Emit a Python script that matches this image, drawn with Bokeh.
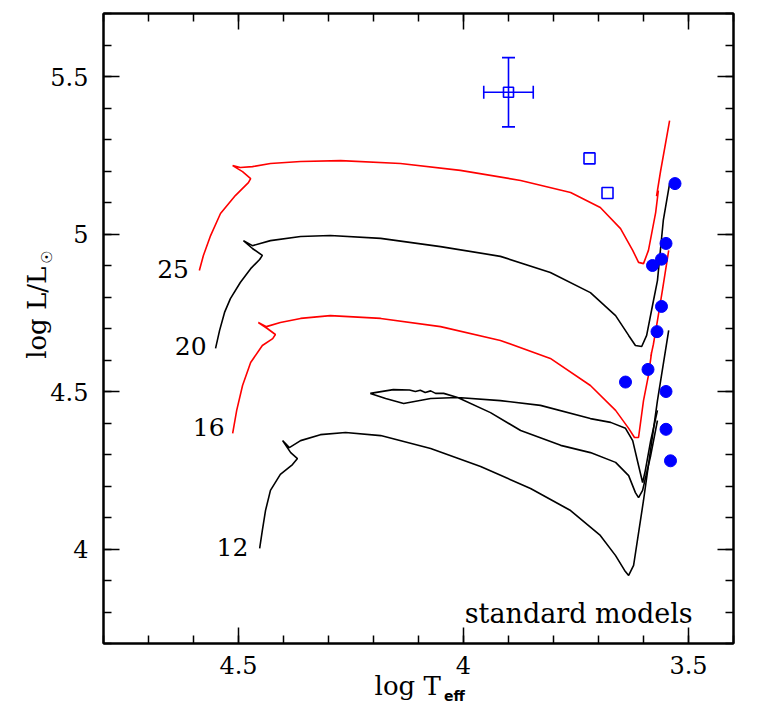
import math
from bokeh.plotting import figure
from bokeh.models import (Range1d, FixedTicker, LinearAxis, Label,
                          CustomJSTickFormatter, ColumnDataSource)
from bokeh.core.properties import value
from bokeh.embed import file_html
from bokeh.resources import INLINE

# ---------------- data ----------------
x_tick_values = [4.5, 4.0, 3.5]
x_tick_labels = ["4.5", "4", "3.5"]
y_tick_values = [4.0, 4.5, 5.0, 5.5]
y_tick_labels = ["4", "4.5", "5", "5.5"]

# 25 Msun track (red)
t25_logT = [4.587, 4.578, 4.562, 4.540, 4.507, 4.478, 4.473, 4.491, 4.513, 4.496,
            4.469, 4.429, 4.362, 4.273, 4.140, 4.007, 3.873, 3.762, 3.696, 3.651,
            3.624, 3.611, 3.600, 3.589, 3.573, 3.567, 3.571, 3.562, 3.542]
t25_logL = [4.884, 4.932, 4.995, 5.065, 5.122, 5.163, 5.176, 5.198, 5.217, 5.211,
            5.214, 5.224, 5.230, 5.233, 5.224, 5.202, 5.170, 5.132, 5.084, 5.017,
            4.948, 4.910, 4.906, 4.948, 5.068, 5.138, 5.120, 5.200, 5.360]

# 20 Msun track (black)
t20_logT = [4.551, 4.542, 4.531, 4.518, 4.496, 4.473, 4.453, 4.447, 4.469, 4.489,
            4.469, 4.429, 4.362, 4.296, 4.184, 4.051, 3.918, 3.807, 3.718, 3.662,
            3.633, 3.618, 3.604, 3.593, 3.580, 3.569, 3.556, 3.542]
t20_logL = [4.637, 4.694, 4.751, 4.795, 4.846, 4.890, 4.919, 4.932, 4.954, 4.979,
            4.963, 4.979, 4.992, 4.995, 4.986, 4.960, 4.929, 4.878, 4.814, 4.741,
            4.678, 4.646, 4.643, 4.678, 4.773, 4.852, 5.043, 5.160]

# 16 Msun track (red)
t16_logT = [4.513, 4.504, 4.491, 4.473, 4.447, 4.424, 4.418, 4.436, 4.456, 4.438,
            4.407, 4.362, 4.296, 4.184, 4.051, 3.918, 3.807, 3.718, 3.662, 3.633,
            3.620, 3.611, 3.600, 3.589, 3.582, 3.584, 3.578, 3.569, 3.558, 3.544]
t16_logL = [4.367, 4.440, 4.519, 4.592, 4.646, 4.668, 4.681, 4.700, 4.719, 4.706,
            4.719, 4.732, 4.741, 4.732, 4.706, 4.662, 4.605, 4.519, 4.440, 4.383,
            4.354, 4.354, 4.471, 4.551, 4.624, 4.610, 4.650, 4.725, 4.821, 4.948]

# 12 Msun track (black)
t12_logT = [4.453, 4.447, 4.440, 4.429, 4.407, 4.380, 4.369, 4.384, 4.402, 4.387,
            4.362, 4.318, 4.262, 4.184, 4.073, 3.962, 3.851, 3.762, 3.696, 3.662,
            3.642, 3.633, 3.622, 3.600, 3.569, 3.544]
t12_logL = [4.002, 4.059, 4.122, 4.186, 4.237, 4.268, 4.287, 4.306, 4.344, 4.322,
            4.344, 4.363, 4.370, 4.360, 4.319, 4.262, 4.192, 4.122, 4.043, 3.979,
            3.932, 3.916, 3.948, 4.154, 4.471, 4.694]

# blue loop (black)
loop_logT = [3.569, 3.584, 3.596, 3.602, 3.611, 3.624, 3.640, 3.673, 3.718, 3.829,
             3.918, 4.013, 4.073, 4.133, 4.173, 4.207, 4.156, 4.120, 4.107, 4.096,
             4.085, 4.073, 4.062, 4.044, 4.013, 3.940, 3.873, 3.784, 3.718, 3.662,
             3.633, 3.618, 3.611, 3.602, 3.584, 3.569]
loop_logL = [4.440, 4.344, 4.249, 4.211, 4.265, 4.344, 4.383, 4.402, 4.414, 4.456,
             4.471, 4.481, 4.478, 4.462, 4.478, 4.494, 4.506, 4.505, 4.500, 4.504,
             4.497, 4.502, 4.494, 4.494, 4.481, 4.433, 4.376, 4.329, 4.306, 4.275,
             4.233, 4.179, 4.163, 4.186, 4.297, 4.408]

# observed stars (filled dots)
star_logT = [3.53, 3.55, 3.56, 3.58, 3.56, 3.57, 3.59, 3.64, 3.55, 3.55, 3.54]
star_logL = [5.16, 4.97, 4.92, 4.90, 4.77, 4.69, 4.57, 4.53, 4.50, 4.38, 4.28]

# open squares
sq_logT = [3.72, 3.68]
sq_logL = [5.24, 5.13]

# error-bar point
err_logT = [3.90]
err_logL = [5.45]
err_dT = [0.055]
err_dL = [0.11]

# track labels
mass_labels = ["25", "20", "16", "12"]
mass_lab_logT = [4.61, 4.571, 4.531, 4.478]
mass_lab_logL = [4.89, 4.646, 4.386, 4.005]

# axis titles
x_title_main = "log T"
x_title_sub = "eff"
y_title_main = "log L/L"
y_title_sub = "\u2609"

# ---------------- figure ----------------
SERIF = "DejaVu Serif"
BLUE = "#0000ff"
RED = "#ff0000"

p = figure(frame_width=630, frame_height=630,
           x_range=Range1d(4.8, 3.4), y_range=Range1d(3.7, 5.7),
           output_backend="svg", toolbar_location=None,
           min_border_left=103, min_border_right=22,
           min_border_top=13, min_border_bottom=50)
p.grid.visible = False
p.outline_line_color = "black"
p.outline_line_width = 2
p.background_fill_color = "white"
p.border_fill_color = "white"

x_minor = [round(3.4 + 0.1 * i, 1) for i in range(15)]
y_minor = [round(3.7 + 0.1 * i, 1) for i in range(21)]


def fmt(vals, labs):
    return CustomJSTickFormatter(args=dict(vals=vals, labs=labs), code="""
        for (let i = 0; i < vals.length; i++) {
            if (Math.abs(vals[i] - tick) < 1e-6) { return labs[i]; }
        }
        return '';
    """)


def style(ax, ticks, minor, labels_vals, labels):
    ax.ticker = FixedTicker(ticks=ticks, minor_ticks=minor)
    ax.formatter = fmt(labels_vals, labels)
    ax.major_tick_in = 16
    ax.major_tick_out = 0
    ax.minor_tick_in = 8
    ax.minor_tick_out = 0
    ax.major_tick_line_width = 1.5
    ax.minor_tick_line_width = 1.5
    ax.major_tick_line_color = "black"
    ax.minor_tick_line_color = "black"
    ax.axis_line_width = 2
    ax.axis_line_color = "black"
    ax.major_label_text_font = SERIF
    ax.major_label_text_font_size = "24px"
    ax.major_label_text_color = "black"


style(p.xaxis[0], x_tick_values, x_minor, x_tick_values, x_tick_labels)
style(p.yaxis[0], y_tick_values, y_minor, y_tick_values, y_tick_labels)
p.xaxis[0].major_label_standoff = 12
p.yaxis[0].major_label_standoff = 15

top = LinearAxis()
style(top, x_tick_values, x_minor, [], [])
top.major_label_text_font_size = "0px"
top.major_label_standoff = 0
p.add_layout(top, "above")
right = LinearAxis()
style(right, y_tick_values, y_minor, [], [])
right.major_label_text_font_size = "0px"
right.major_label_standoff = 0
p.add_layout(right, "right")


def title_axis(pos, text, font, size, bold, standoff, vertical=False):
    ax = LinearAxis(ticker=FixedTicker(ticks=[pos], minor_ticks=[]),
                    formatter=fmt([pos], [text]))
    ax.major_tick_in = 0
    ax.major_tick_out = 0
    ax.minor_tick_in = 0
    ax.minor_tick_out = 0
    ax.axis_line_color = None
    ax.major_tick_line_color = None
    ax.minor_tick_line_color = None
    ax.major_label_text_font = font
    ax.major_label_text_font_size = size
    ax.major_label_text_font_style = "bold" if bold else "normal"
    ax.major_label_text_color = "black"
    ax.major_label_standoff = standoff
    if vertical:
        ax.major_label_orientation = "vertical"
    return ax


# x title: "log T" with bold subscript "eff"
p.add_layout(title_axis(4.124, x_title_main, SERIF, "26px", False, -6), "below")
p.add_layout(title_axis(4.02, x_title_sub, "DejaVu Sans", "14px", True, -16), "below")
# y title: "log L/L" with subscript sun symbol
p.add_layout(title_axis(4.927, y_title_sub, "DejaVu Sans", "15px", False, -9, True), "left")
p.add_layout(title_axis(4.75, y_title_main, SERIF, "26px", False, -16, True), "left")

# tracks
LW = 1.6
p.line(t25_logT, t25_logL, line_color=RED, line_width=LW)
p.line(t16_logT, t16_logL, line_color=RED, line_width=LW)
p.line(t20_logT, t20_logL, line_color="black", line_width=LW)
p.line(t12_logT, t12_logL, line_color="black", line_width=LW)
p.line(loop_logT, loop_logL, line_color="black", line_width=LW)

# observed stars
p.scatter(star_logT, star_logL, size=12, marker="circle",
          fill_color=BLUE, line_color=BLUE)
p.scatter(sq_logT, sq_logL, size=11, marker="square",
          fill_color=None, line_color=BLUE, line_width=1.6)

# error bars
src = ColumnDataSource(dict(
    x=err_logT, y=err_logL,
    x0=[a - d for a, d in zip(err_logT, err_dT)],
    x1=[a + d for a, d in zip(err_logT, err_dT)],
    y0=[a - d for a, d in zip(err_logL, err_dL)],
    y1=[a + d for a, d in zip(err_logL, err_dL)],
))
p.segment(x0="x0", y0="y", x1="x1", y1="y", source=src, line_color=BLUE, line_width=1.6)
p.segment(x0="x", y0="y0", x1="x", y1="y1", source=src, line_color=BLUE, line_width=1.6)
p.scatter(x="x0", y="y", source=src, marker="dash", angle=math.pi / 2, size=13,
          line_color=BLUE, line_width=1.6)
p.scatter(x="x1", y="y", source=src, marker="dash", angle=math.pi / 2, size=13,
          line_color=BLUE, line_width=1.6)
p.scatter(x="x", y="y0", source=src, marker="dash", size=13,
          line_color=BLUE, line_width=1.6)
p.scatter(x="x", y="y1", source=src, marker="dash", size=13,
          line_color=BLUE, line_width=1.6)
p.scatter(x="x", y="y", source=src, marker="square", size=10,
          fill_color=None, line_color=BLUE, line_width=1.6)

# mass labels
p.text(mass_lab_logT, mass_lab_logL, text=mass_labels,
       text_font=value(SERIF), text_font_size="25px",
       text_align="right", text_baseline="middle", text_color="black")

p.add_layout(Label(x=3.744, y=3.795, text="standard models", text_font=SERIF,
                   text_font_size="27px", text_align="center",
                   text_baseline="alphabetic", text_color="black"))

open("out.html", "w").write(file_html(p, INLINE))
